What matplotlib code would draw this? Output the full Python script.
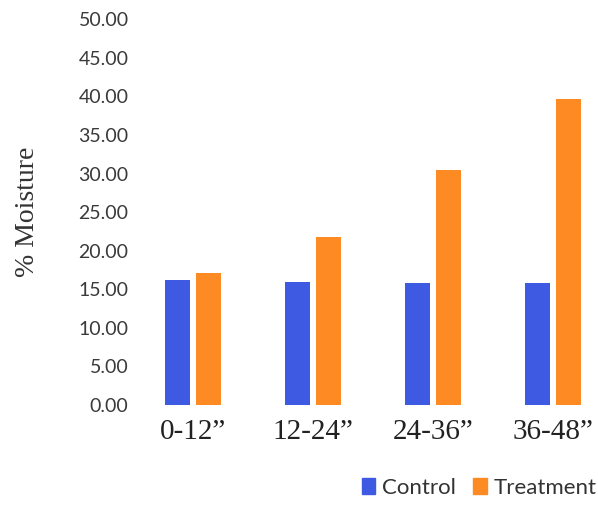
import numpy as np
import matplotlib
matplotlib.use("Agg")
from matplotlib import pyplot as plt
from matplotlib.patches import Patch

# soil moisture by depth
depths = ['0-12\u201d', '12-24\u201d', '24-36\u201d', '36-48\u201d']
control = [16.2, 16.0, 15.8, 15.8]
treatment = [17.1, 21.8, 30.5, 39.7]
yticks = np.arange(0, 50.01, 5)

blue = '#3f5ae2'
orange = '#fe8a24'

fig = plt.figure(figsize=(5.98, 5.05), dpi=100)
ax = fig.add_axes([0.222, 0.198, 0.778, 0.764])

x = np.arange(len(depths))
w = 0.21
ax.bar(x - 0.13, control, w, color=blue)
ax.bar(x + 0.13, treatment, w, color=orange)

ax.set_xlim(-0.5, 3.373)
ax.set_ylim(0, 50)
ax.set_yticks(yticks)
ax.set_yticklabels(['%.2f' % v for v in yticks], family='Lato', fontsize=14, color='#3a3a3a')
ax.set_xticks(x)
ax.set_xticklabels(depths, family='Liberation Serif', fontsize=21, color='#222222')
ax.tick_params(length=0)
ax.tick_params(axis='y', pad=3)
ax.tick_params(axis='x', pad=10)
for s in ax.spines.values():
    s.set_visible(False)

ax.set_ylabel('% Moisture', family='Liberation Serif', fontsize=20, color='#333333')
ax.yaxis.set_label_coords(-0.2, 0.5)

handles = [Patch(color=blue, label='Control'), Patch(color=orange, label='Treatment')]
fig.legend(handles=handles, loc='center left', bbox_to_anchor=(0.59, 0.034),
           ncol=2, frameon=False, prop={'family': 'Lato', 'size': 16},
           handlelength=0.6, handleheight=0.75, handletextpad=0.3,
           columnspacing=0.8, borderaxespad=0, labelcolor='#333333')

fig.savefig('out.png', dpi=100)
